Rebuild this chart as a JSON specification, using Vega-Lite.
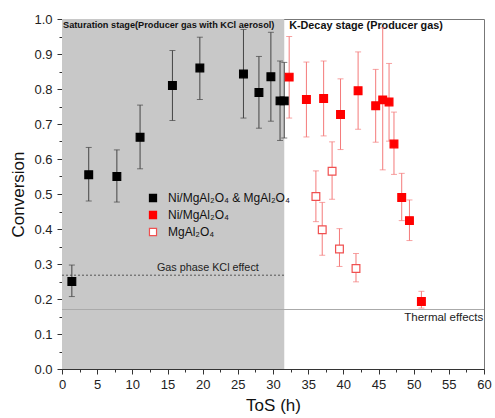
{
  "$schema": "https://vega.github.io/schema/vega-lite/v6.json",
  "width": 422,
  "height": 350,
  "autosize": {"type": "none"},
  "padding": {"left": 62, "top": 19, "right": 11, "bottom": 49},
  "background": "white",
  "resolve": {"axis": {"x": "independent", "y": "independent"}},
  "config": {
    "font": "Liberation Sans",
    "view": {"stroke": "#777", "strokeWidth": 1},
    "axis": {
      "grid": false,
      "domainColor": "#333",
      "tickColor": "#333",
      "labelColor": "#222",
      "labelFontSize": 13,
      "titleFontSize": 17,
      "titleFontWeight": "normal",
      "titleColor": "#111",
      "zindex": 1
    },
    "legend": {"labelFontSize": 12, "labelColor": "#111"}
  },
  "datasets": {
    "pts": [
      {"t": 1.4, "c": 0.25, "lo": 0.207, "hi": 0.297, "series": "Ni/MgAl₂O₄ & MgAl₂O₄"},
      {"t": 3.8, "c": 0.555, "lo": 0.48, "hi": 0.633, "series": "Ni/MgAl₂O₄ & MgAl₂O₄"},
      {"t": 7.8, "c": 0.55, "lo": 0.477, "hi": 0.626, "series": "Ni/MgAl₂O₄ & MgAl₂O₄"},
      {"t": 11.1, "c": 0.662, "lo": 0.572, "hi": 0.754, "series": "Ni/MgAl₂O₄ & MgAl₂O₄"},
      {"t": 15.7, "c": 0.81, "lo": 0.71, "hi": 0.91, "series": "Ni/MgAl₂O₄ & MgAl₂O₄"},
      {"t": 19.6, "c": 0.86, "lo": 0.77, "hi": 0.948, "series": "Ni/MgAl₂O₄ & MgAl₂O₄"},
      {"t": 25.8, "c": 0.843, "lo": 0.717, "hi": 0.97, "series": "Ni/MgAl₂O₄ & MgAl₂O₄"},
      {"t": 28.0, "c": 0.79, "lo": 0.688, "hi": 0.893, "series": "Ni/MgAl₂O₄ & MgAl₂O₄"},
      {"t": 29.7, "c": 0.835, "lo": 0.708, "hi": 0.962, "series": "Ni/MgAl₂O₄ & MgAl₂O₄"},
      {"t": 31.0, "c": 0.766, "lo": 0.653, "hi": 0.88, "series": "Ni/MgAl₂O₄ & MgAl₂O₄"},
      {"t": 31.6, "c": 0.766, "lo": 0.66, "hi": 0.876, "series": "Ni/MgAl₂O₄ & MgAl₂O₄"},
      {"t": 32.3, "c": 0.834, "lo": 0.717, "hi": 0.95, "series": "Ni/MgAl₂O₄"},
      {"t": 34.75, "c": 0.77, "lo": 0.663, "hi": 0.877, "series": "Ni/MgAl₂O₄"},
      {"t": 37.2, "c": 0.773, "lo": 0.666, "hi": 0.88, "series": "Ni/MgAl₂O₄"},
      {"t": 39.6, "c": 0.727, "lo": 0.627, "hi": 0.829, "series": "Ni/MgAl₂O₄"},
      {"t": 42.1, "c": 0.795, "lo": 0.685, "hi": 0.906, "series": "Ni/MgAl₂O₄"},
      {"t": 44.6, "c": 0.752, "lo": 0.648, "hi": 0.856, "series": "Ni/MgAl₂O₄"},
      {"t": 45.6, "c": 0.769, "lo": 0.569, "hi": 0.975, "series": "Ni/MgAl₂O₄"},
      {"t": 46.5, "c": 0.763, "lo": 0.651, "hi": 0.873, "series": "Ni/MgAl₂O₄"},
      {"t": 47.2, "c": 0.643, "lo": 0.556, "hi": 0.734, "series": "Ni/MgAl₂O₄"},
      {"t": 48.3, "c": 0.49, "lo": 0.424, "hi": 0.559, "series": "Ni/MgAl₂O₄"},
      {"t": 49.4, "c": 0.424, "lo": 0.367, "hi": 0.483, "series": "Ni/MgAl₂O₄"},
      {"t": 51.1, "c": 0.193, "lo": 0.174, "hi": 0.222, "series": "Ni/MgAl₂O₄"},
      {"t": 36.1, "c": 0.493, "lo": 0.421, "hi": 0.566, "series": "MgAl₂O₄"},
      {"t": 37.0, "c": 0.398, "lo": 0.325, "hi": 0.476, "series": "MgAl₂O₄"},
      {"t": 38.4, "c": 0.565, "lo": 0.485, "hi": 0.649, "series": "MgAl₂O₄"},
      {"t": 39.45, "c": 0.343, "lo": 0.293, "hi": 0.401, "series": "MgAl₂O₄"},
      {"t": 41.8, "c": 0.287, "lo": 0.249, "hi": 0.33, "series": "MgAl₂O₄"}
    ]
  },
  "layer": [
    {
      "data": {"values": [{"x0": 0, "x1": 31.6, "y0": 0, "y1": 1}]},
      "mark": {"type": "rect", "color": "#c8c8c8"},
      "encoding": {
        "x": {
          "field": "x0", "type": "quantitative",
          "scale": {"domain": [0, 60], "nice": false},
          "title": "ToS (h)",
          "axis": {
            "orient": "bottom",
            "values": [0, 5, 10, 15, 20, 25, 30, 35, 40, 45, 50, 55, 60],
            "tickSize": 5,
            "labelPadding": 4,
            "titlePadding": 6,
            "labelFlush": false
          }
        },
        "x2": {"field": "x1"},
        "y": {
          "field": "y0", "type": "quantitative",
          "scale": {"domain": [0, 1], "nice": false},
          "title": "Conversion",
          "axis": {
            "orient": "left",
            "values": [0, 0.1, 0.2, 0.3, 0.4, 0.5, 0.6, 0.7, 0.8, 0.9, 1.0],
            "format": ".1f",
            "tickSize": 5,
            "labelPadding": 5,
            "titlePadding": 6,
            "labelFlush": false
          }
        },
        "y2": {"field": "y1"}
      }
    },
    {
      "data": {"values": [{"x0": 0, "x1": 31.6, "y": 0.268}]},
      "mark": {"type": "rule", "color": "#555", "strokeDash": [2, 2], "strokeWidth": 1},
      "encoding": {
        "x": {
          "field": "x0", "type": "quantitative",
          "axis": {
            "orient": "bottom", "title": null, "labels": false, "domain": false,
            "values": [2.5, 7.5, 12.5, 17.5, 22.5, 27.5, 32.5, 37.5, 42.5, 47.5, 52.5, 57.5],
            "tickSize": 3
          }
        },
        "x2": {"field": "x1"},
        "y": {
          "field": "y", "type": "quantitative",
          "axis": {
            "orient": "left", "title": null, "labels": false, "domain": false,
            "values": [0.05, 0.15, 0.25, 0.35, 0.45, 0.55, 0.65, 0.75, 0.85, 0.95],
            "tickSize": 3
          }
        }
      }
    },
    {
      "data": {"values": [{"x0": 0, "x1": 60, "y": 0.17}]},
      "mark": {"type": "rule", "color": "#aaa", "strokeWidth": 1},
      "encoding": {
        "x": {"field": "x0", "type": "quantitative", "axis": null},
        "x2": {"field": "x1"},
        "y": {"field": "y", "type": "quantitative", "axis": null}
      }
    },
    {
      "data": {"values": [
        {"x": 0.15, "y": 0.982, "label": "Saturation stage(Producer gas with KCl aerosol)"}
      ]},
      "mark": {"type": "text", "align": "left", "baseline": "middle", "fontWeight": "bold", "fontSize": 9.2, "color": "#111"},
      "encoding": {
        "x": {"field": "x", "type": "quantitative", "axis": null},
        "y": {"field": "y", "type": "quantitative", "axis": null},
        "text": {"field": "label"}
      }
    },
    {
      "data": {"values": [
        {"x": 32.3, "y": 0.98, "label": "K-Decay stage (Producer gas)"}
      ]},
      "mark": {"type": "text", "align": "left", "baseline": "middle", "fontWeight": "bold", "fontSize": 10.8, "color": "#111"},
      "encoding": {
        "x": {"field": "x", "type": "quantitative", "axis": null},
        "y": {"field": "y", "type": "quantitative", "axis": null},
        "text": {"field": "label"}
      }
    },
    {
      "data": {"values": [
        {"x": 13.5, "y": 0.29, "label": "Gas phase  KCl effect"}
      ]},
      "mark": {"type": "text", "align": "left", "baseline": "middle", "fontSize": 10.8, "color": "#222"},
      "encoding": {
        "x": {"field": "x", "type": "quantitative", "axis": null},
        "y": {"field": "y", "type": "quantitative", "axis": null},
        "text": {"field": "label"}
      }
    },
    {
      "data": {"values": [
        {"x": 59.9, "y": 0.145, "label": "Thermal effects"}
      ]},
      "mark": {"type": "text", "align": "right", "baseline": "middle", "fontSize": 11.5, "color": "#222"},
      "encoding": {
        "x": {"field": "x", "type": "quantitative", "axis": null},
        "y": {"field": "y", "type": "quantitative", "axis": null},
        "text": {"field": "label"}
      }
    },
    {
      "data": {"name": "pts"},
      "transform": [{"filter": "datum.series == 'Ni/MgAl₂O₄ & MgAl₂O₄'"}],
      "mark": {"type": "rule", "color": "#444", "strokeWidth": 1},
      "encoding": {
        "x": {"field": "t", "type": "quantitative", "axis": null},
        "y": {"field": "lo", "type": "quantitative", "axis": null},
        "y2": {"field": "hi"}
      }
    },
    {
      "data": {"name": "pts"},
      "transform": [{"filter": "datum.series != 'Ni/MgAl₂O₄ & MgAl₂O₄'"}],
      "mark": {"type": "rule", "color": "#f47a7a", "strokeWidth": 1},
      "encoding": {
        "x": {"field": "t", "type": "quantitative", "axis": null},
        "y": {"field": "lo", "type": "quantitative", "axis": null},
        "y2": {"field": "hi"}
      }
    },
    {
      "data": {"name": "pts"},
      "transform": [{"filter": "datum.series == 'Ni/MgAl₂O₄ & MgAl₂O₄'"}, {"fold": ["lo", "hi"], "as": ["end", "v"]}],
      "mark": {"type": "tick", "orient": "horizontal", "color": "#444", "size": 6, "thickness": 1},
      "encoding": {
        "x": {"field": "t", "type": "quantitative", "axis": null},
        "y": {"field": "v", "type": "quantitative", "axis": null}
      }
    },
    {
      "data": {"name": "pts"},
      "transform": [{"filter": "datum.series != 'Ni/MgAl₂O₄ & MgAl₂O₄'"}, {"fold": ["lo", "hi"], "as": ["end", "v"]}],
      "mark": {"type": "tick", "orient": "horizontal", "color": "#f47a7a", "size": 6, "thickness": 1},
      "encoding": {
        "x": {"field": "t", "type": "quantitative", "axis": null},
        "y": {"field": "v", "type": "quantitative", "axis": null}
      }
    },
    {
      "data": {"name": "pts"},
      "mark": {"type": "point", "shape": "square", "filled": true, "size": 60, "strokeWidth": 1.2, "opacity": 1},
      "encoding": {
        "x": {"field": "t", "type": "quantitative", "axis": null},
        "y": {"field": "c", "type": "quantitative", "axis": null},
        "fill": {
          "field": "series", "type": "nominal",
          "scale": {"domain": ["Ni/MgAl₂O₄ & MgAl₂O₄", "Ni/MgAl₂O₄", "MgAl₂O₄"], "range": ["#000000", "#ff0000", "#ffffff"]},
          "legend": {
            "title": null, "orient": "none", "legendX": 85, "legendY": 173,
            "symbolType": "square", "symbolSize": 50, "symbolStrokeWidth": 1.2,
            "rowPadding": 5, "labelOffset": 9, "labelFontSize": 12
          }
        },
        "stroke": {
          "field": "series", "type": "nominal",
          "scale": {"domain": ["Ni/MgAl₂O₄ & MgAl₂O₄", "Ni/MgAl₂O₄", "MgAl₂O₄"], "range": ["#000000", "#ff0000", "#f05050"]},
          "legend": {
            "title": null, "orient": "none", "legendX": 85, "legendY": 173,
            "symbolType": "square", "symbolSize": 50, "symbolStrokeWidth": 1.2,
            "rowPadding": 5, "labelOffset": 9, "labelFontSize": 12
          }
        }
      }
    }
  ]
}
